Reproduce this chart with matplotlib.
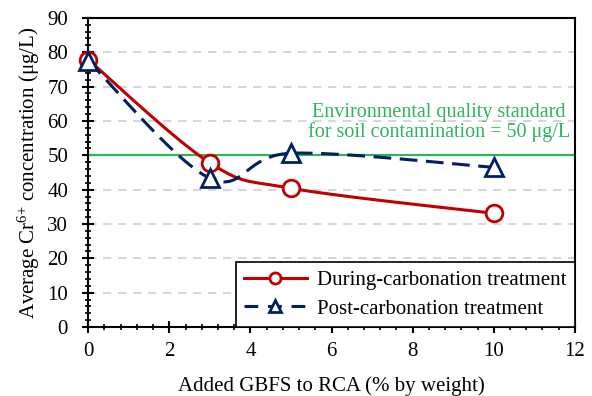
import numpy as np
import matplotlib.pyplot as plt
from matplotlib.ticker import MultipleLocator

plt.rcParams['font.family'] = ['Liberation Serif', 'DejaVu Serif']
plt.rcParams['mathtext.fontset'] = 'custom'
plt.rcParams['mathtext.rm'] = 'Liberation Serif'
plt.rcParams['mathtext.it'] = 'Liberation Serif:italic'

gbfs = [0, 3, 5, 10]
during = [77.8, 47.8, 40.4, 33.1]
post = [77.5, 43.3, 50.6, 46.5]
standard = 50
labels = ['During-carbonation treatment', 'Post-carbonation treatment']


def smooth(x, y, n=30):
    # excel style smoothed line (catmull-rom bezier)
    x = np.asarray(x, float)
    y = np.asarray(y, float)
    px = np.concatenate([[x[0]], x, [x[-1]]])
    py = np.concatenate([[y[0]], y, [y[-1]]])
    xs, ys = [], []
    t = np.linspace(0, 1, n)
    for i in range(1, len(px) - 2):
        p0 = np.array([px[i], py[i]])
        p3 = np.array([px[i + 1], py[i + 1]])
        p1 = p0 + (np.array([px[i + 1], py[i + 1]]) - np.array([px[i - 1], py[i - 1]])) / 6
        p2 = p3 - (np.array([px[i + 2], py[i + 2]]) - np.array([px[i], py[i]])) / 6
        b = ((1 - t) ** 3)[:, None] * p0 + (3 * (1 - t) ** 2 * t)[:, None] * p1 \
            + (3 * (1 - t) * t ** 2)[:, None] * p2 + (t ** 3)[:, None] * p3
        xs.extend(b[:, 0])
        ys.extend(b[:, 1])
    return xs, ys


fig = plt.figure(figsize=(5.92, 3.96), dpi=100)
ax = fig.add_axes([0.149, 0.174, 0.822, 0.781])

red = '#C00000'
blue = '#002060'
green = '#2EB35E'
dash = (5.8, 2.8)

ax.axhline(standard, color=green, lw=1.6, zorder=2)

sx, sy = smooth(gbfs, during)
ax.plot(sx, sy, color=red, lw=2.2, zorder=3, clip_on=False)
sx, sy = smooth(gbfs, post)
ax.plot(sx, sy, color=blue, lw=2.2, dashes=dash, zorder=3, clip_on=False)

ax.plot(gbfs, during, 'o', color=red, mfc='white', mec=red, ms=12, mew=2, zorder=4, clip_on=False)
ax.plot(gbfs, post, '^', color=blue, mfc='white', mec=blue, ms=13, mew=2, zorder=5, clip_on=False)

# legend handles
h1, = ax.plot([], [], color=red, lw=2.2, marker='o', mfc='white', mec=red, ms=8, mew=2)
h2, = ax.plot([], [], color=blue, lw=2.2, dashes=(4.5, 3.2), marker='^', mfc='white', mec=blue, ms=8, mew=2)
leg = ax.legend([h1, h2], labels, loc='lower right', borderaxespad=0, fancybox=False,
                edgecolor='black', framealpha=1, fontsize=15, handlelength=3.0,
                borderpad=0.4, labelspacing=0.45, handletextpad=0.5)
leg.get_frame().set_linewidth(1.2)
leg.set_zorder(6)

ax.text(8.65, 54, 'Environmental quality standard\nfor soil contamination = 50 μg/L',
        color=green, fontsize=14.5, ha='center', va='bottom', linespacing=0.95)

ax.set_xlim(0, 12)
ax.set_ylim(0, 90)
ax.xaxis.set_major_locator(MultipleLocator(2))
ax.xaxis.set_minor_locator(MultipleLocator(0.4))
ax.yaxis.set_major_locator(MultipleLocator(10))
ax.yaxis.set_minor_locator(MultipleLocator(2))
ax.tick_params(which='major', direction='inout', length=9, width=1.5, labelsize=15)
ax.tick_params(axis='x', which='major', pad=6)
ax.tick_params(axis='y', which='major', pad=10)
ax.tick_params(which='minor', direction='inout', length=5, width=1.2)
for s in ax.spines.values():
    s.set_linewidth(1.5)

for v in range(10, 90, 10):
    if v != standard:
        ax.axhline(v, color='#D0D0D0', lw=1.2, dashes=(5, 4), zorder=1)

ax.set_xlabel('Added GBFS to RCA (% by weight)', fontsize=15, labelpad=11)
ax.set_ylabel('Average Cr$^{\\text{6+}}$ concentration (μg/L)', fontsize=15, labelpad=4)

plt.savefig('out.png', dpi=100)
